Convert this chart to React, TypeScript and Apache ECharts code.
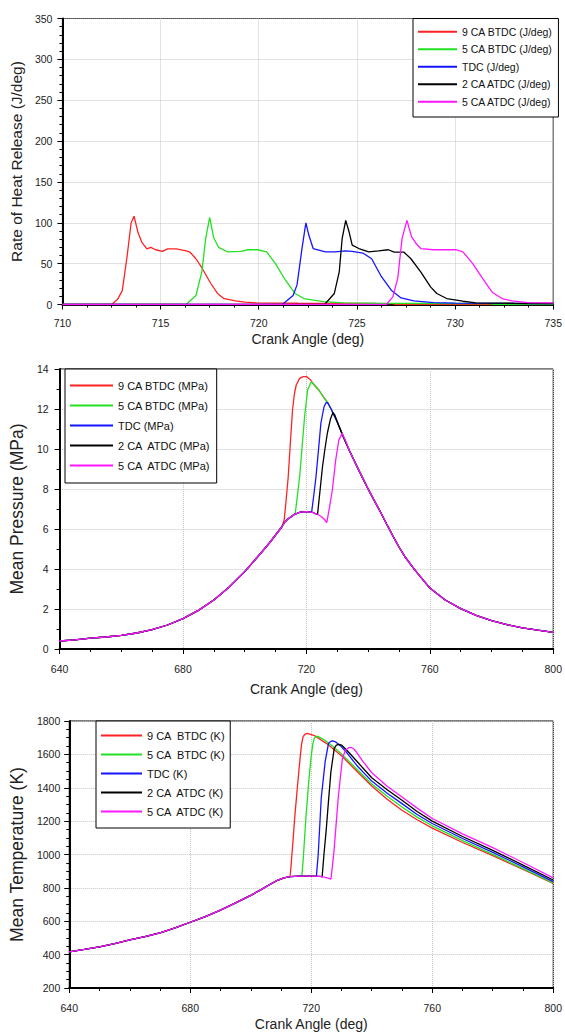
import { useEffect, useRef } from "react";
import * as echarts from "echarts";

// ---------- Names / colours ----------
const hrrNames = ["9 CA BTDC (J/deg)", "5 CA BTDC (J/deg)", "TDC (J/deg)", "2 CA ATDC (J/deg)", "5 CA ATDC (J/deg)"];
const pressNames = ["9 CA BTDC (MPa)", "5 CA BTDC (MPa)", "TDC (MPa)", "2 CA  ATDC (MPa)", "5 CA  ATDC (MPa)"];
const tempNames = ["9 CA  BTDC (K)", "5 CA  BTDC (K)", "TDC (K)", "2 CA  ATDC (K)", "5 CA  ATDC (K)"];
const seriesColors = ["#ff2222", "#22e022", "#1515ff", "#000000", "#ff18ff"];

const xTitle = "Crank Angle (deg)";
const hrrTitle = "Rate of Heat Release (J/deg)";
const pressTitle = "Mean Pressure (MPa)";
const tempTitle = "Mean Temperature (K)";

// ---------- Panel 1 : rate of heat release ----------
const hrr9BTDC = [[710,0],[712.5,0],[712.8,6],[713.05,17],[713.3,60],[713.5,100],[713.65,108],[713.85,88],[714.05,76],[714.3,68],[714.5,70],[714.75,67],[715.1,65],[715.35,68],[715.8,68],[716.3,65.5],[716.5,64],[716.8,56],[717.1,45],[717.55,26],[717.9,13.5],[718.2,7.5],[718.8,4.5],[719.3,3],[719.9,2],[722,1.5],[726.8,1],[727,0],[735,0]];
const hrr5BTDC = [[710,0],[716.3,0],[716.8,11],[717.1,40],[717.3,81],[717.5,106.5],[717.7,82],[717.95,70],[718.4,64.5],[719.1,65],[719.45,67],[719.95,67],[720.4,64.5],[720.85,50],[721.35,30],[721.85,13.5],[722.3,7.3],[722.8,5.3],[723.3,3.5],[724.3,2],[726,1.5],[731.8,1],[732,0],[735,0]];
const hrrTDC = [[710,0],[721.2,0],[721.75,11],[721.95,24],[722.2,68],[722.4,100],[722.55,85],[722.77,68.5],[723.4,64.5],[723.9,64.5],[724.4,65.6],[724.75,65],[725.3,63],[725.75,56],[726.25,34],[726.75,17.5],[727.25,8],[727.9,4.4],[728.9,2.4],[730,1.6],[734,1.2],[735,1]];
const hrr2ATDC = [[710,0],[723.35,0],[723.85,13.5],[724.1,40],[724.25,81],[724.43,103],[724.6,89],[724.76,72.6],[725.1,68.5],[725.6,64.5],[726.1,65.6],[726.6,67],[726.9,64],[727.4,64],[727.75,56],[728.25,40],[728.75,21.6],[729.07,13.5],[729.57,7.3],[730.4,4],[731.06,2],[733,1.5],[735,1.2]];
const hrr5ATDC = [[710,0],[726.5,0],[726.83,9.3],[727.08,32],[727.3,81],[727.55,103],[727.78,83],[728,75],[728.25,68.5],[728.9,67],[729.57,67],[730.07,67],[730.4,64.5],[730.9,50],[731.4,32],[731.9,14.7],[732.4,7.3],[732.9,4.4],[733.7,2.4],[735,2]];

// ---------- Panel 2 : mean pressure ----------
const pressCompression = [[640,0.40],[645,0.46],[650,0.54],[655,0.60],[660,0.68],[665,0.8],[670,0.97],[675,1.2],[680,1.52],[685,1.93],[690,2.45],[695,3.1],[700,3.87],[705,4.75],[708,5.3],[710,5.7],[712,6.1],[713,6.35],[714,6.5],[716,6.72],[718,6.84],[720,6.87],[722,6.83],[724,6.7],[725,6.6],[726,6.45],[726.6,6.32]];
const pressExpansion = [[722,13.3],[724,12.95],[726,12.5],[727,12.3],[728,12.0],[730,11.35],[732,10.6],[734,9.9],[736,9.25],[738,8.62],[740,8.0],[742,7.42],[744,6.85],[746,6.25],[748,5.66],[750,5.1],[752,4.6],[755,3.98],[758,3.42],[760,3.05],[765,2.45],[770,2.02],[775,1.68],[780,1.42],[785,1.22],[790,1.06],[795,0.94],[800,0.83]];
const press9BTDC = [[712.8,6.45],[713.4,7.4],[714.1,8.6],[714.8,10.3],[715.5,11.95],[716.1,12.75],[716.7,13.2],[717.8,13.53],[719,13.62],[720,13.62],[721.2,13.48]];
const press5BTDC = [[716.4,6.8],[717.1,7.7],[717.8,8.6],[718.6,10.1],[719.4,11.6],[720.4,12.95],[721.3,13.28],[721.7,13.35]];
const pressTDC = [[721.7,6.85],[722.4,7.7],[723.1,8.6],[724,10.1],[724.7,11.3],[725.7,12.1],[726.3,12.3],[726.8,12.32],[727.3,12.2]];
const press2ATDC = [[723.6,6.72],[724.4,7.9],[725.2,9.1],[726,10.0],[726.8,10.8],[727.8,11.5],[728.6,11.82],[729.2,11.7]];
const press5ATDC = [[726.6,6.32],[727.5,7.1],[728.4,7.95],[729.5,9.45],[730.5,10.45],[731.6,10.78],[732.3,10.55],[733,10.3]];

// ---------- Panel 3 : mean temperature ----------
const tempCompression = [[640,417],[645,431],[650,447],[655,466],[660,488],[665,508],[670,531],[675,560],[680,594],[685,628],[690,667],[695,710],[700,755],[703,785],[706,817],[709,847],[711,860],[713,867],[716,870],[720,871],[723,869],[725,862],[726.5,853]];
const temp9BTDC = [[713,867],[713.4,950],[714,1090],[714.6,1236],[715.5,1420],[716.3,1576],[716.8,1660],[717.3,1706],[718,1722],[718.7,1726],[719.5,1722],[721.1,1712],[725,1666],[730,1592],[735,1500],[740,1410],[745,1333],[750,1265],[755,1208],[760,1158],[770,1072],[780,993],[790,910],[800,827]];
const temp5BTDC = [[716.9,872],[717.3,960],[718.3,1236],[719.1,1420],[719.9,1576],[720.5,1660],[721,1696],[721.7,1710],[722.5,1705],[724.4,1686],[727,1650],[730,1603],[735,1512],[740,1422],[745,1350],[750,1285],[755,1224],[760,1172],[770,1083],[780,1001],[790,915],[800,829]];
const tempTDC = [[721.7,869],[722.3,1000],[723.3,1337],[724.6,1556],[725.7,1666],[726.4,1678],[727.1,1681],[728,1675],[730,1645],[732,1605],[735,1535],[740,1440],[745,1368],[750,1305],[755,1240],[760,1186],[770,1096],[780,1013],[790,926],[800,837]];
const temp2ATDC = [[723.6,866],[724.2,1000],[724.9,1137],[725.7,1320],[726.5,1496],[727.6,1636],[728.3,1655],[729.2,1660],[730,1656],[732,1620],[735,1560],[740,1460],[745,1390],[750,1325],[755,1258],[760,1200],[770,1108],[780,1025],[790,936],[800,847]];
const temp5ATDC = [[726.5,853],[727,930],[727.6,1037],[728.9,1337],[730.3,1576],[731.3,1625],[732.5,1641],[733.4,1640],[734.1,1632],[735,1612],[737,1560],[740,1490],[745,1410],[750,1345],[755,1278],[760,1216],[770,1124],[780,1041],[790,952],[800,860]];

const joinPress = (seg: number[][]) => [
  ...pressCompression.filter((p) => p[0] < seg[0][0]),
  ...seg,
  ...pressExpansion.filter((p) => p[0] > seg[seg.length - 1][0] + 0.5),
];
const joinTemp = (seg: number[][]) => [
  ...tempCompression.filter((p) => p[0] < seg[0][0]),
  ...seg,
];

const FONT = "'Liberation Sans', Arial, Helvetica, sans-serif";

export default function App() {
  const ref = useRef<HTMLDivElement>(null);

  useEffect(() => {
    if (!ref.current) return;
    const chart = echarts.init(ref.current, undefined, { renderer: "svg" });

    const grids = [
      { left: 53, top: 18.5, width: 503, height: 286 },
      { left: 50, top: 369, width: 504, height: 280 },
      { left: 61.5, top: 721, width: 493.5, height: 267 },
    ];

    const splitLine = { show: true, lineStyle: { color: "#c4c4c4", type: "dotted" as const, width: 1 } };
    const axisLine = { show: true, lineStyle: { color: "#000", width: 2 } };
    const axisTick = { show: true, inside: false, length: 5, lineStyle: { color: "#000", width: 1 } };
    const labelStyle = { color: "#222", fontSize: 10.5, fontFamily: FONT, formatter: (v: number) => String(v) };
    const nameStyle = (size: number) => ({ color: "#222", fontSize: size, fontFamily: FONT });

    const xAxisCfg = (gridIndex: number, min: number, max: number, interval: number, margin: number, nameGap: number) => ({
      type: "value" as const,
      gridIndex,
      min,
      max,
      interval,
      name: xTitle,
      nameLocation: "middle" as const,
      nameGap,
      nameTextStyle: nameStyle(14),
      axisLine,
      axisTick,
      minorTick: { show: true, splitNumber: 4, length: 3, lineStyle: { color: "#000" } },
      axisLabel: { ...labelStyle, margin },
      splitLine,
    });
    const yAxisCfg = (gridIndex: number, min: number, max: number, interval: number, minorSplit: number, name: string, nameGap: number, nameSize: number, margin: number) => ({
      type: "value" as const,
      gridIndex,
      min,
      max,
      interval,
      name,
      nameLocation: "middle" as const,
      nameGap,
      nameRotate: 90,
      nameTextStyle: nameStyle(nameSize),
      axisLine,
      axisTick,
      minorTick: { show: true, splitNumber: minorSplit, length: 3, lineStyle: { color: "#000" } },
      axisLabel: { ...labelStyle, margin },
      splitLine,
    });

    const legendCfg = (names: string[], left: number, top: number, padding: number[], itemGap: number, itemWidth: number, fontSize: number) => ({
      data: names,
      orient: "vertical" as const,
      left,
      top,
      padding,
      itemGap,
      itemWidth,
      itemHeight: 2,
      icon: "rect",
      borderColor: "#000",
      borderWidth: 1,
      backgroundColor: "#fff",
      textStyle: { color: "#111", fontSize, fontFamily: FONT, lineHeight: fontSize + 2 },
    });

    const mk = (names: string[], datas: number[][][], idx: number) =>
      datas.map((d, i) => ({
        name: names[i],
        type: "line" as const,
        xAxisIndex: idx,
        yAxisIndex: idx,
        data: d,
        showSymbol: false,
        symbol: "none",
        lineStyle: { color: seriesColors[i], width: 1.3 },
        itemStyle: { color: seriesColors[i] },
        z: 2 + i,
      }));

    chart.setOption({
      animation: false,
      backgroundColor: "#fff",
      grid: grids.map((g) => ({ ...g, show: true, borderColor: "#000", borderWidth: 1, backgroundColor: "transparent" })),
      xAxis: [
        xAxisCfg(0, 710, 735, 5, 13, 27),
        xAxisCfg(1, 640, 800, 40, 14, 33),
        xAxisCfg(2, 640, 800, 40, 14, 29),
      ],
      yAxis: [
        yAxisCfg(0, 0, 350, 50, 5, hrrTitle, 22, 15.5, 10),
        yAxisCfg(1, 0, 14, 2, 2, pressTitle, 16, 17.5, 11),
        yAxisCfg(2, 200, 1800, 200, 4, tempTitle, 28, 17.5, 9),
      ],
      legend: [
        legendCfg(hrrNames, 413, 18.5, [7, 6, 9, 5], 5, 39, 10.5),
        legendCfg(pressNames, 65, 369, [10, 6, 11, 5], 7, 43, 11),
        legendCfg(tempNames, 96, 721, [8, 5, 10, 5], 6, 41, 11),
      ],
      series: [
        ...mk(hrrNames, [hrr9BTDC, hrr5BTDC, hrrTDC, hrr2ATDC, hrr5ATDC], 0),
        ...mk(pressNames, [joinPress(press9BTDC), joinPress(press5BTDC), joinPress(pressTDC), joinPress(press2ATDC), joinPress(press5ATDC)], 1),
        ...mk(tempNames, [joinTemp(temp9BTDC), joinTemp(temp5BTDC), joinTemp(tempTDC), joinTemp(temp2ATDC), joinTemp(temp5ATDC)], 2),
      ],
    });

    return () => chart.dispose();
  }, []);

  return (
    <div
      ref={ref}
      style={{ position: "absolute", left: 0, top: 0, width: 565, height: 1034, background: "#fff" }}
    />
  );
}
